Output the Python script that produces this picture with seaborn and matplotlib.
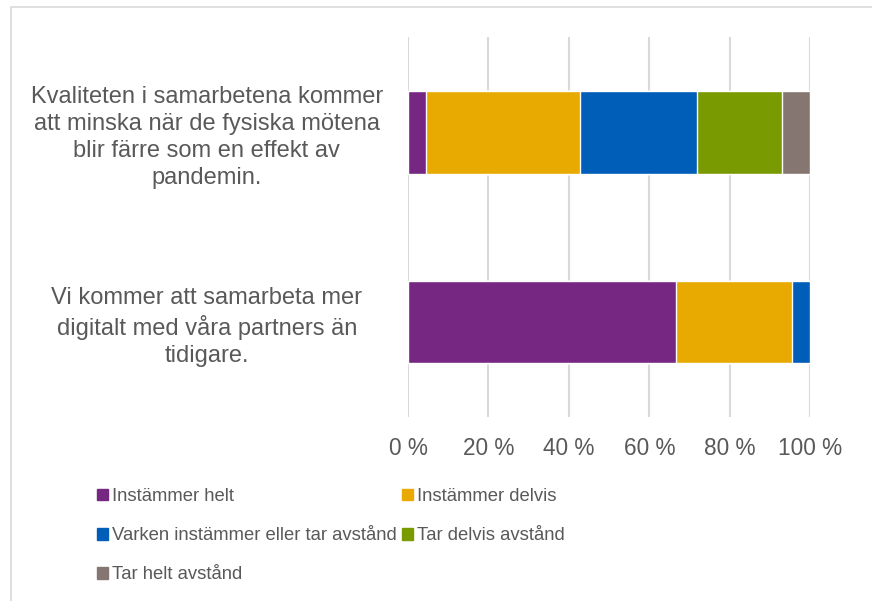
import seaborn as sns
import matplotlib.pyplot as plt
import matplotlib.patches as mpatches
import pandas as pd
import numpy as np

# Data (percent of respondents)
statements = [
    "Kvaliteten i samarbetena kommer\natt minska när de fysiska mötena\nblir färre som en effekt av\npandemin.",
    "Vi kommer att samarbeta mer\ndigitalt med våra partners än\ntidigare.",
]
answers = ["Instämmer helt", "Instämmer delvis",
           "Varken instämmer eller tar avstånd", "Tar delvis avstånd",
           "Tar helt avstånd"]
instammer_helt = [4.5, 66.7]
instammer_delvis = [38.3, 28.8]
varken = [29.1, 4.5]
tar_delvis = [21.1, 0.0]
tar_helt = [7.0, 0.0]
colors = ["#752782", "#E8AA00", "#005EB8", "#7A9A01", "#857671"]

sns.set_theme(style="white")
plt.rcParams['font.family'] = ['Liberation Sans', 'DejaVu Sans']
text_col = "#595959"

df = pd.DataFrame({
    "Statement": statements,
    answers[0]: instammer_helt,
    answers[1]: instammer_delvis,
    answers[2]: varken,
    answers[3]: tar_delvis,
    answers[4]: tar_helt,
})
cum = df[answers].cumsum(axis=1)

fig = plt.figure(figsize=(8.72, 6.01), dpi=100)
ax = fig.add_axes([0.468, 0.306, 0.461, 0.632])

# stacked bars: draw the running totals from the longest to the shortest
for ans, col in reversed(list(zip(answers, colors))):
    sns.barplot(x=cum[ans], y=df["Statement"], color=col, width=0.435,
                orient="h", ax=ax, saturation=1)

ax.set_xlim(0, 100)
ax.set_xticks(np.arange(0, 101, 20))
ax.set_xticklabels([f"{v} %" for v in range(0, 101, 20)])
ax.xaxis.grid(True, color="#d9d9d9", linewidth=1.5)
ax.set_axisbelow(True)
for s in ax.spines.values():
    s.set_visible(False)
ax.set_xlabel("")
ax.set_ylabel("")
ax.tick_params(axis="x", length=0, pad=14, labelsize=16.3, labelcolor=text_col)
ax.tick_params(axis="y", length=0, pad=145, labelsize=17, labelcolor=text_col)
for lab in ax.get_yticklabels():
    lab.set_horizontalalignment("center")
    lab.set_multialignment("center")
    lab.set_linespacing(1.3)

# legend is filled column by column, so reorder to read row by row
order = [0, 2, 4, 1, 3]
handles = [mpatches.Patch(color=colors[i], label=answers[i]) for i in order]
leg = fig.legend(handles=handles, ncol=2, loc="upper left",
                 bbox_to_anchor=(0.111, 0.188), frameon=False,
                 fontsize=13.3, handlelength=0.6, handleheight=0.6,
                 handletextpad=0.2, columnspacing=0.3, labelspacing=1.2,
                 borderaxespad=0, borderpad=0)
for t in leg.get_texts():
    t.set_color(text_col)

# light frame of the chart area
fig.patches.append(mpatches.Rectangle((11 / 872, -0.1), 1.2, 1 - 7 / 601 + 0.1,
                                      transform=fig.transFigure, fill=False,
                                      edgecolor="#d9d9d9", linewidth=1.2))

fig.savefig("out.png", dpi=100)
